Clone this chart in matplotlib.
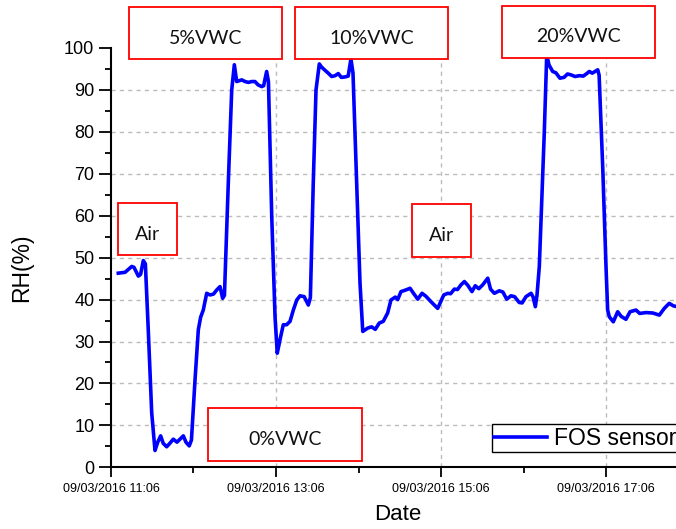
import matplotlib
matplotlib.use('agg')
import matplotlib.pyplot as plt
import matplotlib.dates as mdates
from matplotlib.patches import Rectangle
import pandas as pd

# minutes after 09/03/2016 11:06 and the sensor reading
minutes = [5.3, 10.2, 15.1, 16.7, 19.9, 21.5, 23.5, 25.0, 27.1, 29.6, 32.0, 34.0,
           36.1, 38.0, 40.5, 43.0, 45.3, 48.0, 50.5, 52.6, 54.5, 56.9, 58.5, 61.1,
           63.5, 65.2, 67.1, 69.6, 72.0, 74.5, 76.9, 79.3, 81.2, 82.5, 85.3, 87.8,
           89.7, 91.4, 95.1, 97.5, 99.9, 102.3, 104.7, 107.0, 109.6, 111.0, 113.2, 114.5,
           116.9, 119.3, 120.9, 122.9, 125.3, 127.7, 130.2, 132.6, 135.1, 137.5, 140.5, 143.5,
           145.0, 147.1, 149.1, 151.5, 153.0, 155.6, 158.0, 160.5, 163.0, 165.3, 167.5, 170.2,
           172.5, 174.5, 176.0, 178.7, 181.1, 183.1, 186.7, 189.5, 192.2, 195.1, 198.0, 201.2,
           203.6, 206.8, 208.5, 210.9, 214.5, 217.5, 220.0, 223.1, 226.2, 229.0, 232.7, 237.6,
           242.0, 244.9, 247.0, 249.7, 252.0, 254.5, 257.0, 259.5, 262.5, 264.9, 267.5, 270.3,
           274.0, 276.0, 278.8, 282.4, 285.0, 287.8, 290.9, 293.5, 296.9, 299.0, 301.8, 305.5,
           307.0, 308.6, 309.8, 311.5, 315.1, 316.9, 318.5, 321.2, 323.5, 326.5, 329.5, 332.0,
           334.5, 337.5, 340.6, 343.5, 346.0, 347.9, 350.0, 352.0, 354.0, 355.0, 357.6, 360.0,
           361.2, 362.4, 365.3, 368.5, 371.0, 374.5, 377.5, 381.8, 384.5, 389.1, 394.0, 398.8,
           402.4, 406.0, 409.0, 412.0, 416.0]
rh = [46.3, 46.5, 47.9, 47.7, 45.6, 46.0, 49.3, 48.5, 32.8, 13.0, 4.0, 6.0,
      7.5, 5.7, 4.9, 5.8, 6.7, 6.0, 6.8, 7.5, 6.0, 5.1, 6.5, 20.8,
      32.8, 35.8, 37.5, 41.5, 41.1, 41.3, 42.3, 43.1, 40.3, 41.0, 67.8, 90.0,
      96.0, 92.0, 92.4, 92.0, 91.8, 92.0, 92.0, 91.2, 90.8, 91.0, 94.4, 92.0,
      59.8, 35.9, 27.2, 30.4, 34.0, 34.0, 34.8, 37.5, 39.9, 40.9, 40.7, 38.7,
      40.5, 67.8, 90.0, 96.2, 95.5, 94.7, 94.0, 93.2, 93.4, 93.9, 93.0, 93.1,
      93.3, 97.4, 94.0, 67.8, 43.9, 32.4, 33.2, 33.5, 32.9, 34.4, 34.8, 36.8,
      39.9, 40.6, 40.0, 41.9, 42.3, 42.7, 41.5, 40.1, 41.5, 40.8, 39.5, 37.9,
      41.1, 41.5, 41.4, 42.5, 42.4, 43.5, 44.3, 43.4, 41.9, 43.3, 42.6, 43.5,
      45.1, 42.5, 41.5, 42.1, 41.8, 40.1, 40.9, 40.7, 39.3, 39.2, 40.7, 41.5,
      40.6, 38.3, 41.0, 47.9, 79.7, 98.4, 96.0, 94.4, 94.1, 92.8, 93.0, 93.8,
      93.6, 93.2, 93.4, 93.3, 93.9, 94.4, 94.0, 94.4, 94.8, 93.5, 71.7, 47.9,
      37.5, 35.9, 34.7, 37.1, 36.0, 35.3, 37.1, 37.5, 36.7, 36.9, 36.8, 36.3,
      37.9, 39.1, 38.5, 38.3, 38.5]

start = pd.Timestamp('2016-03-09 11:06')
times = start + pd.to_timedelta(minutes, unit='m')

# label boxes: text, left, top, right, bottom (pixels in the 676x529 picture)
labels = ['5%VWC', '10%VWC', '20%VWC', 'Air', 'Air', '0%VWC']
boxes = [(129, 7, 282, 59), (295, 7, 448, 59), (502, 6, 655, 58),
         (118, 203, 177, 255), (412, 204, 471, 257), (208, 408, 362, 461)]

W, H = 676, 529
plt.rcParams['font.family'] = ['Liberation Sans', 'DejaVu Sans']
fig = plt.figure(figsize=(W / 100, H / 100), dpi=100)

x0, x1 = 111, 688.5
y0, y1 = 467.3, 48
ax = fig.add_axes([x0 / W, 1 - y0 / H, (x1 - x0) / W, (y0 - y1) / H])

ax.plot(times, rh, color='#0000ff', lw=2.6, label='FOS sensor', solid_joinstyle='round')

ax.set_xlim(start, start + pd.Timedelta(minutes=420))
ax.set_ylim(0, 100)
ax.set_yticks(range(0, 101, 10))
ax.set_yticks(range(5, 100, 10), minor=True)
ax.set_xticks([start + pd.Timedelta(hours=h) for h in (0, 2, 4, 6)])
ax.set_xticks([start + pd.Timedelta(hours=h) for h in (1, 3, 5)], minor=True)
ax.xaxis.set_major_formatter(mdates.DateFormatter('%d/%m/%Y %H:%M'))

for s in ('top', 'right'):
    ax.spines[s].set_visible(False)
for s in ('left', 'bottom'):
    ax.spines[s].set_linewidth(1.5)

ax.tick_params(axis='y', which='major', length=9, width=1.3, labelsize=13, pad=3)
ax.tick_params(axis='y', which='minor', length=4.5, width=1.3)
ax.tick_params(axis='x', which='major', length=7, width=1.3, labelsize=9, pad=4)
ax.tick_params(axis='x', which='minor', length=4, width=1.3)

for v in range(10, 100, 10):
    ax.axhline(v, color='#bcbcbc', lw=1, ls=(0, (3, 3)), zorder=0)
for t in ax.get_xticks()[1:]:
    ax.axvline(t, color='#bcbcbc', lw=1, ls=(0, (3, 3)), zorder=0)

ax.set_ylabel('RH(%)', fontsize=16.5)
ax.yaxis.set_label_coords((33 - x0) / (x1 - x0), (y0 - 268) / (y0 - y1))
ax.set_xlabel('Date', fontsize=16)
ax.xaxis.set_label_coords((397.5 - x0) / (x1 - x0), -(504 - y0) / (y0 - y1))

leg = ax.legend(loc='lower left', bbox_to_anchor=(491.7 / W, 1 - 452.3 / H),
                bbox_transform=fig.transFigure, borderaxespad=0, fontsize=16.5,
                fancybox=False, framealpha=1, edgecolor='black', borderpad=0.12,
                handlelength=2.3, handletextpad=0.3)
leg.get_frame().set_linewidth(1.0)

for txt, (l, t, r, b) in zip(labels, boxes):
    fig.add_artist(Rectangle((l / W, 1 - b / H), (r - l) / W, (b - t) / H,
                             transform=fig.transFigure, facecolor='white',
                             edgecolor='red', lw=1.3))
    fig.text((l + r) / 2 / W, 1 - ((t + b) / 2 + 5) / H, txt, ha='center', va='center',
             fontsize=14, family=['Lato', 'DejaVu Sans'], color='#111111')

fig.savefig('out.png', dpi=100)
